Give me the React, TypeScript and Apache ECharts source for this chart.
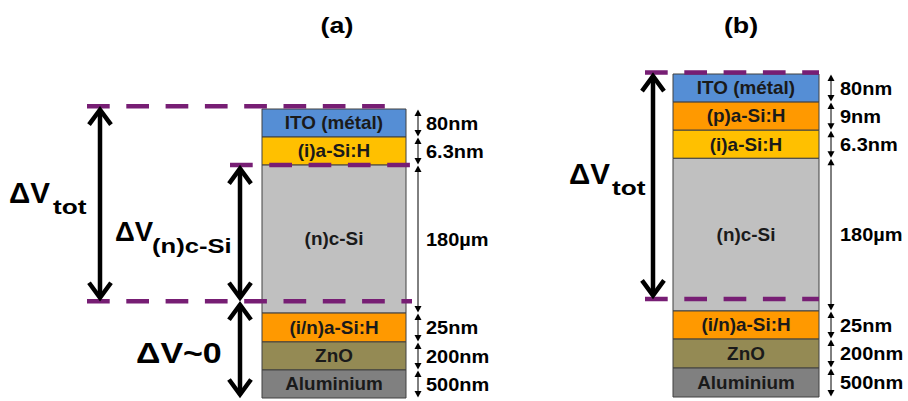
import React, { useEffect, useRef } from "react";
import * as echarts from "echarts";

// ---------------- data ----------------
const panelTitles = ["(a)", "(b)"];

const layersA = ["ITO (métal)", "(i)a-Si:H", "(n)c-Si", "(i/n)a-Si:H", "ZnO", "Aluminium"];
const thicknessA = ["80nm", "6.3nm", "180µm", "25nm", "200nm", "500nm"];
const displayHeightsA = [1, 1, 5.28, 1.03, 1, 1];

const layersB = ["ITO (métal)", "(p)a-Si:H", "(i)a-Si:H", "(n)c-Si", "(i/n)a-Si:H", "ZnO", "Aluminium"];
const thicknessB = ["80nm", "9nm", "6.3nm", "180µm", "25nm", "200nm", "500nm"];
const displayHeightsB = [1, 1, 1, 5.43, 1, 1.03, 1.03];

// potential reference levels (stack display units, from the top)
const levelsA = [-0.1, 2, 6.86];
const levelsB = [-0.05, 8.0];

// potential drops between levels (to = -1 : bottom of the stack)
const dropsA = [
  { main: "ΔV", sub: "tot", from: 0, to: 2 },
  { main: "ΔV", sub: "(n)c-Si", from: 1, to: 2 },
  { main: "ΔV~0", sub: "", from: 2, to: -1 },
];
const dropsB = [{ main: "ΔV", sub: "tot", from: 0, to: 1 }];

// ---------------- styles / layout ----------------
const FONT = '"Liberation Sans", Arial, sans-serif';
const PURPLE = "#771E74";
const LAYER_COLORS: Record<string, string> = {
  "ITO (métal)": "#558ED5",
  "(p)a-Si:H": "#FF9900",
  "(i)a-Si:H": "#FFC000",
  "(n)c-Si": "#C0C0C0",
  "(i/n)a-Si:H": "#FF9900",
  ZnO: "#948A54",
  Aluminium: "#808080",
};

const panels = [
  {
    top: 109,
    height: 289,
    titleX: 337,
    stack: [262, 406],
    tickX: 418,
    textX: 426,
    layers: layersA,
    thick: thicknessA,
    heights: displayHeightsA,
    levels: levelsA,
    levelSpans: [
      [87, 385],
      [230, 410],
      [87, 412],
    ],
    drops: dropsA,
    dropLayout: [
      { x: 100, mx: 9, my: 193, ms: 29, msx: 1.02, sx: 53, sy: 206, ss: 21, ssx: 1.25 },
      { x: 240, mx: 115, my: 232, ms: 27, msx: 1.02, sx: 152, sy: 246, ss: 20, ssx: 1.28 },
      { x: 240, mx: 136, my: 353, ms: 29, msx: 1.17, sx: 0, sy: 0, ss: 20, ssx: 1 },
    ],
  },
  {
    top: 74,
    height: 323,
    titleX: 741,
    stack: [673, 819],
    tickX: 831,
    textX: 840,
    layers: layersB,
    thick: thicknessB,
    heights: displayHeightsB,
    levels: levelsB,
    levelSpans: [
      [645, 819],
      [645, 819],
    ],
    drops: dropsB,
    dropLayout: [{ x: 653, mx: 569, my: 174, ms: 29, msx: 1.02, sx: 612, sy: 187, ss: 21, ssx: 1.25 }],
  },
];

function sum(a: number[]) {
  return a.reduce((s, v) => s + v, 0);
}
function cumulative(h: number[]) {
  let s = 0;
  return h.map((v) => {
    const r = [s, s + v];
    s += v;
    return r;
  });
}

function txt(x: number, y: number, text: string, size: number, sx: number, align: string, fill = "#000") {
  return {
    type: "text",
    x,
    y,
    scaleX: sx,
    style: {
      text,
      fill,
      fontSize: size,
      fontWeight: "bold",
      fontFamily: FONT,
      align,
      textAlign: align,
      verticalAlign: "middle",
      textVerticalAlign: "middle",
    },
  };
}

function buildOption() {
  const grid = panels.map((p) => ({ left: 0, right: 0, top: p.top, height: p.height }));
  const xAxis = panels.map((p, i) => ({ type: "value", gridIndex: i, min: 0, max: 908, show: false }));
  const yAxis = panels.map((p, i) => ({
    type: "value",
    gridIndex: i,
    min: 0,
    max: sum(p.heights),
    inverse: true,
    show: false,
  }));
  const series: any[] = [];
  panels.forEach((p, pi) => {
    const spans = cumulative(p.heights);
    const total = sum(p.heights);
    // layers
    series.push({
      type: "custom",
      xAxisIndex: pi,
      yAxisIndex: pi,
      clip: false,
      silent: true,
      z: 2,
      data: spans.map((s, i) => [s[0], s[1], i]),
      renderItem: (params: any, api: any) => {
        const i = api.value(2);
        const y0 = api.coord([0, api.value(0)])[1];
        const y1 = api.coord([0, api.value(1)])[1];
        const x0 = api.coord([p.stack[0], 0])[0];
        const x1 = api.coord([p.stack[1], 0])[0];
        const tx = api.coord([p.tickX, 0])[0];
        const lx = api.coord([p.textX, 0])[0];
        const name = p.layers[i];
        const cy = (y0 + y1) / 2;
        const a0 = y0 + 0.5;
        const a1 = y1 - 0.5;
        return {
          type: "group",
          children: [
            {
              type: "rect",
              shape: { x: x0, y: y0, width: x1 - x0, height: y1 - y0 },
              style: { fill: LAYER_COLORS[name], stroke: "#404040", lineWidth: 1 },
            },
            txt((x0 + x1) / 2, cy + 0.5, name, 17.5, 1.08, "center", "#1a1a1a"),
            { type: "line", shape: { x1: tx, y1: a0 + 4, x2: tx, y2: a1 - 4 }, style: { stroke: "#000", lineWidth: 1 } },
            {
              type: "polygon",
              shape: { points: [[tx, a0], [tx - 3.5, a0 + 6.5], [tx + 3.5, a0 + 6.5]] },
              style: { fill: "#000" },
            },
            {
              type: "polygon",
              shape: { points: [[tx, a1], [tx - 3.5, a1 - 6.5], [tx + 3.5, a1 - 6.5]] },
              style: { fill: "#000" },
            },
            txt(lx, cy + 0.5, p.thick[i], 18.5, 1.08, "left"),
          ],
        };
      },
    });
    // dashed potential levels
    series.push({
      type: "custom",
      xAxisIndex: pi,
      yAxisIndex: pi,
      clip: false,
      silent: true,
      z: 3,
      data: p.levels.map((l, i) => [l, i]),
      renderItem: (params: any, api: any) => {
        const i = api.value(1);
        const y = api.coord([0, api.value(0)])[1];
        const [xa, xb] = p.levelSpans[i];
        return {
          type: "line",
          shape: { x1: api.coord([xa, 0])[0], y1: y, x2: api.coord([xb, 0])[0], y2: y },
          style: { stroke: PURPLE, lineWidth: 4.5, lineDash: [22.7, 16.6] },
        };
      },
    });
    // potential drop arrows
    series.push({
      type: "custom",
      xAxisIndex: pi,
      yAxisIndex: pi,
      clip: false,
      silent: true,
      z: 4,
      data: p.drops.map((d, i) => [p.levels[d.from], d.to < 0 ? total : p.levels[d.to], i]),
      renderItem: (params: any, api: any) => {
        const i = api.value(2);
        const d = p.drops[i];
        const L = p.dropLayout[i];
        const yA = api.coord([0, api.value(0)])[1];
        const yB = api.coord([0, api.value(1)])[1];
        const x = api.coord([L.x, 0])[0];
        const w = 11;
        const h = 15;
        const off = 3.5;
        const st = { stroke: "#000", lineWidth: 4.5, fill: null, lineJoin: "miter", lineCap: "butt" };
        const children: any[] = [
          { type: "line", shape: { x1: x, y1: yA + off, x2: x, y2: yB - off }, style: st },
          {
            type: "polyline",
            shape: { points: [[x - w, yA + off + h], [x, yA + off], [x + w, yA + off + h]] },
            style: st,
          },
          {
            type: "polyline",
            shape: { points: [[x - w, yB - off - h], [x, yB - off], [x + w, yB - off - h]] },
            style: st,
          },
          txt(L.mx, L.my, d.main, L.ms, L.msx, "left"),
        ];
        if (d.sub) children.push(txt(L.sx, L.sy, d.sub, L.ss, L.ssx, "left"));
        return { type: "group", children };
      },
    });
  });

  return {
    animation: false,
    backgroundColor: "#ffffff",
    grid,
    xAxis,
    yAxis,
    series,
    graphic: panelTitles.map((t, i) => txt(panels[i].titleX, 25, t, 22, 1.22, "center")),
  };
}

export default function App() {
  const ref = useRef<HTMLDivElement>(null);
  useEffect(() => {
    const chart = echarts.init(ref.current!, null, { renderer: "svg" });
    chart.setOption(buildOption() as any);
    return () => chart.dispose();
  }, []);
  return (
    <div
      ref={ref}
      style={{ position: "fixed", left: 0, top: 0, width: 908, height: 401, background: "#fff" }}
    />
  );
}
